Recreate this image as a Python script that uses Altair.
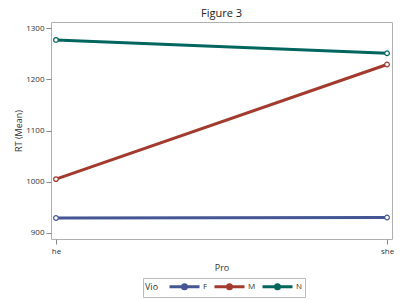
import altair as alt
import pandas as pd

pro = ["he", "she", "he", "she", "he", "she"]
vio = ["F", "F", "M", "M", "N", "N"]
rt = [929, 930, 1005, 1229, 1277, 1251]

df = pd.DataFrame({"Pro": pro, "Vio": vio, "RT": rt})

colors = ["#445694", "#A23A2E", "#01665E"]
FONT = "Open Sans"

x = alt.X("Pro:N", title="Pro",
          scale=alt.Scale(type="point", padding=0.015),
          axis=alt.Axis(labelAngle=0, labelFontSize=8, titleFontSize=9,
                        tickSize=5, tickColor="#888", domain=False,
                        labelPadding=3, titlePadding=8, labelColor="#333",
                        titleColor="#333", labelFont=FONT, titleFont=FONT,
                        titleFontWeight="normal"))
y = alt.Y("RT:Q", title="RT (Mean)",
          scale=alt.Scale(domain=[888, 1312], nice=False, zero=False),
          axis=alt.Axis(values=[900, 1000, 1100, 1200, 1300], grid=False, format="d",
                        labelFontSize=8, titleFontSize=9, tickSize=5,
                        tickColor="#888", domain=False, labelColor="#333",
                        titleColor="#333", labelFont=FONT, titleFont=FONT,
                        titlePadding=2, titleFontWeight="normal"))
color = alt.Color("Vio:N", scale=alt.Scale(domain=["F", "M", "N"], range=colors),
                  legend=alt.Legend(
                      orient="none", legendX=92, legendY=256,
                      direction="horizontal", titleOrient="left",
                      title="Vio", titleFontSize=9, labelFontSize=8,
                      titleFont=FONT, labelFont=FONT, titleColor="#333",
                      labelColor="#333", titleFontWeight="normal",
                      symbolType="M-3,0H3M0.4,0A0.4,0.4 0 1,1 -0.4,0A0.4,0.4 0 1,1 0.4,0",
                      symbolSize=100, symbolStrokeWidth=3, symbolFillColor="transparent",
                      strokeColor="#bbb", padding=2, columnPadding=0,
                      labelOffset=12, titlePadding=19))

lines = alt.Chart(df).mark_line(strokeWidth=3).encode(x=x, y=y, color=color)
pts = alt.Chart(df).mark_point(filled=True, fill="white", size=22, strokeWidth=1.2, opacity=1).encode(
    x=x, y=y, stroke=alt.Stroke("Vio:N", scale=alt.Scale(domain=["F", "M", "N"], range=colors), legend=None))

chart = (lines + pts).properties(
    width=341, height=217,
    title=alt.Title("Figure 3", fontSize=11, font=FONT, fontWeight="normal", color="#222", anchor="middle", offset=3),
    autosize=alt.AutoSizeParams(type="none"),
    padding={"left": 51, "top": 22, "right": 8, "bottom": 61},
    background="white",
).configure_view(stroke="#b0b0b0", strokeWidth=1)

chart.save("out.html", embed_options={"renderer": "svg", "actions": False})
